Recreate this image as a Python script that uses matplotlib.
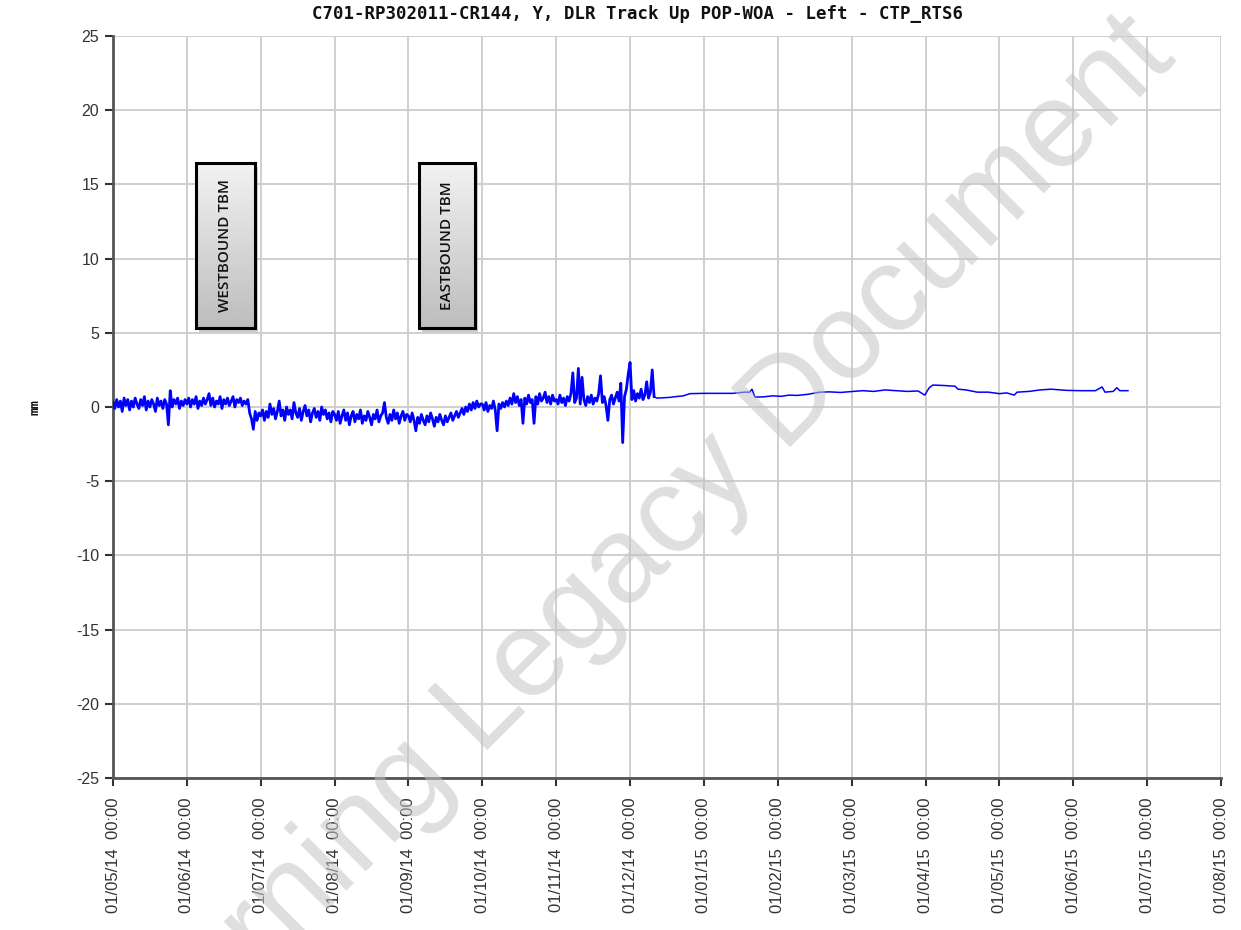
import numpy as np
import matplotlib
matplotlib.use("Agg")
import matplotlib.pyplot as plt
from matplotlib.patches import Rectangle

# ---------------- data ----------------
title = "C701-RP302011-CR144, Y, DLR Track Up POP-WOA - Left - CTP_RTS6"
y_label = "mm"
x_tick_labels = ["01/05/14  00:00", "01/06/14  00:00", "01/07/14  00:00", "01/08/14  00:00",
                 "01/09/14  00:00", "01/10/14  00:00", "01/11/14  00:00", "01/12/14  00:00",
                 "01/01/15  00:00", "01/02/15  00:00", "01/03/15  00:00", "01/04/15  00:00",
                 "01/05/15  00:00", "01/06/15  00:00", "01/07/15  00:00", "01/08/15  00:00"]
y_ticks = [-25, -20, -15, -10, -5, 0, 5, 10, 15, 20, 25]

# dense readings (every 0.025 month from 01/05/14), mm
dense_step = 0.025
dense_y = [
    # May 14
    0.3, -0.1, 0.5, 0.0, 0.4, -0.3, 0.6, 0.1, 0.5, -0.2, 0.4, 0.0, 0.6, 0.2, -0.1, 0.5, 0.1, 0.7, -0.2, 0.4,
    0.0, 0.5, 0.2, -0.3, 0.6, 0.1, 0.4, -0.1, 0.5, 0.2, -1.2, 1.1, 0.0, 0.5, 0.2, 0.6, -0.1, 0.4, 0.1, 0.5,
    # Jun 14
    0.2, 0.6, 0.0, 0.5, 0.2, 0.7, -0.1, 0.4, 0.1, 0.6, 0.2, 0.5, 0.9, 0.1, 0.6, 0.0, 0.4, 0.2, 0.7, -0.1,
    0.5, 0.2, 0.6, 0.1, 0.4, 0.7, 0.0, 0.5, 0.3, 0.6, 0.1, 0.4, 0.2, 0.5, -0.4, -0.8, -1.5, -0.3, -0.9, -0.4,
    # Jul 14
    -0.6, -0.2, -0.9, -0.3, -0.7, 0.2, -0.5, -0.1, -0.8, -0.3, 0.4, -0.6, -0.2, -0.9, 0.0, -0.5, -0.2, -0.8, 0.3, -0.4,
    -0.7, -0.1, -0.9, -0.3, 0.1, -0.6, -0.2, -1.0, -0.4, -0.1, -0.7, -0.3, -0.9, 0.0, -0.5, -0.2, -0.8, -0.4, -1.0, -0.3,
    # Aug 14
    -0.5, -0.9, -0.3, -1.1, -0.6, -0.2, -0.9, -0.4, -1.2, -0.6, -0.3, -1.0, -0.5, -0.8, -0.2, -1.1, -0.6, -0.9, -0.3, -0.7,
    -1.2, -0.5, -0.8, -0.2, -1.0, -0.6, -0.4, 0.3, -0.7, -1.1, -0.5, -0.9, -0.2, -0.8, -0.4, -1.1, -0.6, -0.3, -0.9, -0.5,
    # Sep 14
    -0.6, -1.0, -0.4, -0.9, -1.6, -0.7, -1.1, -0.5, -0.9, -1.2, -0.6, -1.0, -0.4, -0.8, -1.3, -0.7, -1.0, -0.5, -0.9, -1.2,
    -0.6, -1.0, -0.7, -0.4, -0.9, -0.6, -0.3, -0.7, -0.4, -0.1, -0.5, 0.0, -0.3, 0.2, -0.2, 0.3, -0.1, 0.4, 0.0, 0.2,
    # Oct 14
    0.2, -0.2, 0.3, -0.3, 0.1, -0.1, 0.4, -0.2, -1.6, 0.2, -0.1, 0.3, 0.0, 0.4, 0.1, 0.6, 0.2, 0.9, 0.3, 0.7,
    0.1, 0.5, -1.1, 0.6, 0.2, 0.8, 0.3, 0.5, -1.1, 0.7, 0.2, 0.9, 0.4, 0.6, 1.0, 0.3, 0.7, 0.2, 0.8, 0.4,
    # Nov 14
    0.5, 0.2, 0.8, 0.3, 0.6, 0.1, 0.7, 0.4, 0.9, 2.3, 0.3, 0.6, 2.6, 0.2, 2.0, 0.5, 0.1, 0.7, 0.3, 0.8,
    0.2, 0.6, 0.4, 0.9, 2.1, 0.3, 0.7, 0.1, -0.9, 0.5, 0.8, 0.2, 0.6, 1.0, 0.4, 1.6, -2.4, 0.7, 1.2, 2.2,
    # Dec 14 (first part)
    3.0, 0.5, 1.1, 0.4, 0.9, 0.6, 1.2, 0.5, 0.8, 1.7, 0.6, 1.0, 2.5, 0.7,
]

# sparser readings afterwards (x in months from 01/05/14), mm
sparse_x = [7.36, 7.45, 7.54, 7.62, 7.72, 7.81, 8.0, 8.2, 8.39, 8.55,
            8.62, 8.65, 8.69, 8.8, 8.93, 9.05, 9.15, 9.26, 9.4, 9.57,
            9.7, 9.85, 10.02, 10.15, 10.3, 10.45, 10.6, 10.75, 10.9, 10.99,
            11.05, 11.1, 11.24, 11.4, 11.44, 11.55, 11.7, 11.85, 12.0, 12.1,
            12.2, 12.24, 12.4, 12.55, 12.7, 12.91, 13.1, 13.3, 13.39, 13.43,
            13.54, 13.59, 13.63, 13.74]
sparse_y = [0.6, 0.62, 0.65, 0.7, 0.75, 0.9, 0.92, 0.92, 0.92, 1.0,
            1.0, 1.2, 0.67, 0.68, 0.75, 0.72, 0.8, 0.78, 0.85, 1.0,
            1.02, 0.98, 1.05, 1.1, 1.05, 1.15, 1.1, 1.05, 1.08, 0.8,
            1.3, 1.48, 1.45, 1.4, 1.2, 1.15, 1.0, 1.0, 0.9, 0.95,
            0.8, 1.0, 1.05, 1.15, 1.2, 1.12, 1.1, 1.1, 1.35, 1.0,
            1.05, 1.3, 1.1, 1.1]

# annotation boxes: label, x range (months), y range (mm)
box_labels = ["WESTBOUND TBM", "EASTBOUND TBM"]
box_x = [(1.12, 1.92), (4.14, 4.90)]
box_y = (5.3, 16.45)

# ---------------- figure ----------------
fig = plt.figure(figsize=(12.41, 9.30), dpi=100)
ax = fig.add_axes([113/1241, 1-778/930, (1221-113)/1241, (778-36)/930])

dense_x = np.arange(len(dense_y)) * dense_step
ax.plot(dense_x, dense_y, color="#0000ff", lw=2.0, zorder=3)
ax.plot([dense_x[-1]] + sparse_x, [dense_y[-1]] + sparse_y, color="#0000ff", lw=1.1, zorder=3)

ax.set_xlim(0, 15)
ax.set_ylim(-25, 25)
ax.set_xticks(range(len(x_tick_labels)))
ax.set_xticklabels(x_tick_labels, rotation=90, fontsize=12, color="#333333",
                   family="Liberation Sans")
ax.set_yticks(y_ticks)
ax.set_yticklabels([str(v) for v in y_ticks], fontsize=11.5, color="#333333",
                   family="Liberation Sans")
ax.grid(True, color="#cccccc", lw=1.3, zorder=0)
ax.set_axisbelow(True)
for s in ["top", "right"]:
    ax.spines[s].set_visible(False)
for s in ["left", "bottom"]:
    ax.spines[s].set_color("#555555")
    ax.spines[s].set_linewidth(2)
ax.tick_params(axis="both", direction="out", length=6, width=1.5, color="#333333")
ax.tick_params(axis="x", pad=8)
ax.tick_params(axis="y", pad=4)

# annotation boxes with gradient
grad = np.linspace(0.95, 0.74, 100).reshape(-1, 1)
for lab, (x0, x1) in zip(box_labels, box_x):
    y0, y1 = box_y
    sh = Rectangle((x0 + 0.04, y0 - 0.25), x1 - x0, y1 - y0, facecolor="#999999",
                   edgecolor="none", alpha=0.5, zorder=4)
    ax.add_patch(sh)
    ax.imshow(grad, cmap="gray", vmin=0, vmax=1, extent=(x0, x1, y0, y1),
              aspect="auto", origin="upper", zorder=5)
    ax.add_patch(Rectangle((x0, y0), x1 - x0, y1 - y0, facecolor="none",
                           edgecolor="black", lw=2.2, zorder=6))
    ax.text((x0 + x1) / 2, (y0 + y1) / 2, lab, rotation=90, ha="center", va="center",
            fontsize=11, family="Open Sans", weight="semibold", color="#111111", zorder=7)

ax.set_xlim(0, 15)
ax.set_ylim(-25, 25)

fig.text(637/1241, 1-14/930, title, ha="center", va="center", fontsize=12.5,
         family="DejaVu Sans Mono", weight="bold", color="#111111")
fig.text(35/1241, 1-407/930, y_label, ha="center", va="center", rotation=90,
         fontsize=9.5, family="DejaVu Sans Mono", weight="bold", color="#111111")

# watermark
fig.text(1178/1241, 1-60/930, "Learning Legacy Document", rotation=45,
         rotation_mode="anchor", ha="right", va="baseline", fontsize=88,
         family="Liberation Sans", color="#c4c4c4", alpha=0.55, zorder=10)

fig.savefig("out.png", dpi=100)
